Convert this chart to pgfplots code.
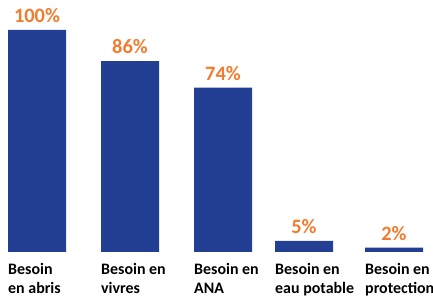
\documentclass[border=0pt]{standalone}
\usepackage{pgfplots}
\pgfplotsset{compat=1.18}
\usepackage{fontspec}
\setmainfont{Carlito}
\definecolor{barblue}{HTML}{233F94}
\definecolor{lblorange}{HTML}{F47B2E}
\begin{document}
\begin{tikzpicture}
\begin{axis}[
 scale only axis, width=433bp, height=297bp,
 xmin=0, xmax=433, ymin=-20.27, ymax=113.51,
 axis x line=middle, axis y line=none,
 x axis line style={draw=none, -},
 ytick=\empty,
 xtick={8,101,194,275,365},
 xticklabels={{Besoin\\en abris},{Besoin en\\vivres},{Besoin en\\ANA},{Besoin en\\eau potable},{Besoin en\\protection}},
 xticklabel style={anchor=north west, align=left, font=\fontsize{16}{19.5}\selectfont\bfseries, inner sep=0pt, yshift=-11bp},
 major tick length=0,
 ybar, bar width=58,
 /pgf/number format/assume math mode=true,
 nodes near coords={\pgfmathprintnumber{\pgfplotspointmeta}\%},
 nodes near coords style={font=\fontsize{20.5}{24}\selectfont\bfseries, text=lblorange, anchor=south, inner sep=0pt, yshift=7bp},
 clip=false,
]
\addplot[fill=barblue, draw=none] coordinates {(37,100) (130,86) (223,74) (304,5) (394,2)};
\end{axis}
\pgfresetboundingbox
\useasboundingbox (0,0) rectangle (433bp,297bp);
\end{tikzpicture}
\end{document}
